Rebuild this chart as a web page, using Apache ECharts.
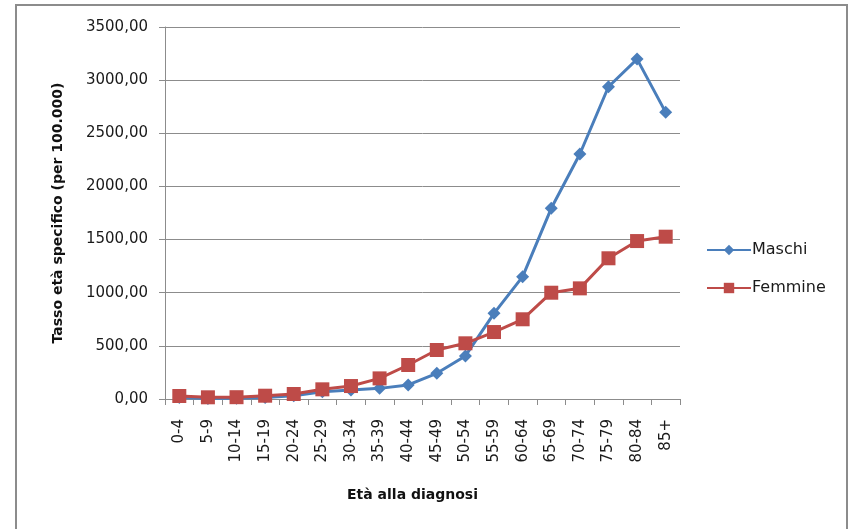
<!DOCTYPE html>
<html>
<head>
<meta charset="utf-8">
<script src="https://cdn.jsdelivr.net/npm/echarts@6/dist/echarts.min.js"></script>
<style>
html,body{margin:0;padding:0;background:#fff;}
#chart{width:850px;height:529px;}
</style>
</head>
<body>
<div id="chart"></div>
<script>
const categories = ['0-4','5-9','10-14','15-19','20-24','25-29','30-34','35-39','40-44','45-49','50-54','55-59','60-64','65-69','70-74','75-79','80-84','85+'];
const maschi = [15, 5, 8, 15, 30, 68, 85, 100, 132, 242, 405, 806, 1151, 1794, 2305, 2938, 3198, 2697];
const femmine = [28, 16, 17, 31, 47, 91, 122, 194, 320, 461, 524, 630, 750, 1000, 1041, 1324, 1486, 1527];
const yTicks = [0, 500, 1000, 1500, 2000, 2500, 3000, 3500];

const font = '"DejaVu Sans", sans-serif';
const chart = echarts.init(document.getElementById('chart'), null, {renderer: 'canvas'});
chart.setOption({
  animation: false,
  backgroundColor: '#fff',
  textStyle: {fontFamily: font},
  graphic: [{
    type: 'rect', shape: {x: 16, y: 5, width: 831, height: 540},
    style: {fill: 'none', stroke: '#8c8c8c', lineWidth: 2}, z: 0
  }],
  grid: {left: 165, right: 170, top: 27, bottom: 130, containLabel: false},
  legend: {
    orient: 'vertical', left: 706, top: 242, padding: 0, itemWidth: 44, itemHeight: 13, itemGap: 22,
    textStyle: {fontFamily: font, fontSize: 16, color: '#1a1a1a', padding: [0, 0, 0, -4]},
    data: ['Maschi', 'Femmine']
  },
  xAxis: {
    type: 'category', data: categories, boundaryGap: true,
    name: 'Età alla diagnosi', nameLocation: 'middle', nameGap: 89,
    nameTextStyle: {fontFamily: font, fontSize: 14, fontWeight: 'bold', color: '#111', padding: [0, 20, 0, 0]},
    axisLine: {lineStyle: {color: '#8c8c8c', width: 1}},
    axisTick: {show: true, length: 6, lineStyle: {color: '#8c8c8c'}},
    axisLabel: {rotate: 90, fontFamily: font, fontSize: 15, color: '#1a1a1a', margin: 20, interval: 0}
  },
  yAxis: {
    type: 'value', min: 0, max: 3500, interval: 500,
    name: 'Tasso età specifico (per 100.000)', nameLocation: 'middle', nameGap: 100,
    nameTextStyle: {fontFamily: font, fontSize: 14, fontWeight: 'bold', color: '#111'},
    axisLine: {show: true, lineStyle: {color: '#8c8c8c', width: 1}},
    axisTick: {show: true, length: 6, inside: false, lineStyle: {color: '#8c8c8c'}},
    axisLabel: {fontFamily: font, fontSize: 15, color: '#1a1a1a', margin: 17,
      formatter: v => yTicks.includes(v) ? v.toFixed(2).replace('.', ',') : ''},
    splitLine: {lineStyle: {color: '#8c8c8c', width: 1}}
  },
  series: [
    {name: 'Maschi', type: 'line', data: maschi, symbol: 'diamond', symbolSize: 13,
     lineStyle: {color: '#4a7ebb', width: 3}, itemStyle: {color: '#4a7ebb'}, z: 2},
    {name: 'Femmine', type: 'line', data: femmine, symbol: 'rect', symbolSize: 14,
     lineStyle: {color: '#be4b48', width: 3}, itemStyle: {color: '#be4b48'}, z: 3}
  ]
});
</script>
</body>
</html>
